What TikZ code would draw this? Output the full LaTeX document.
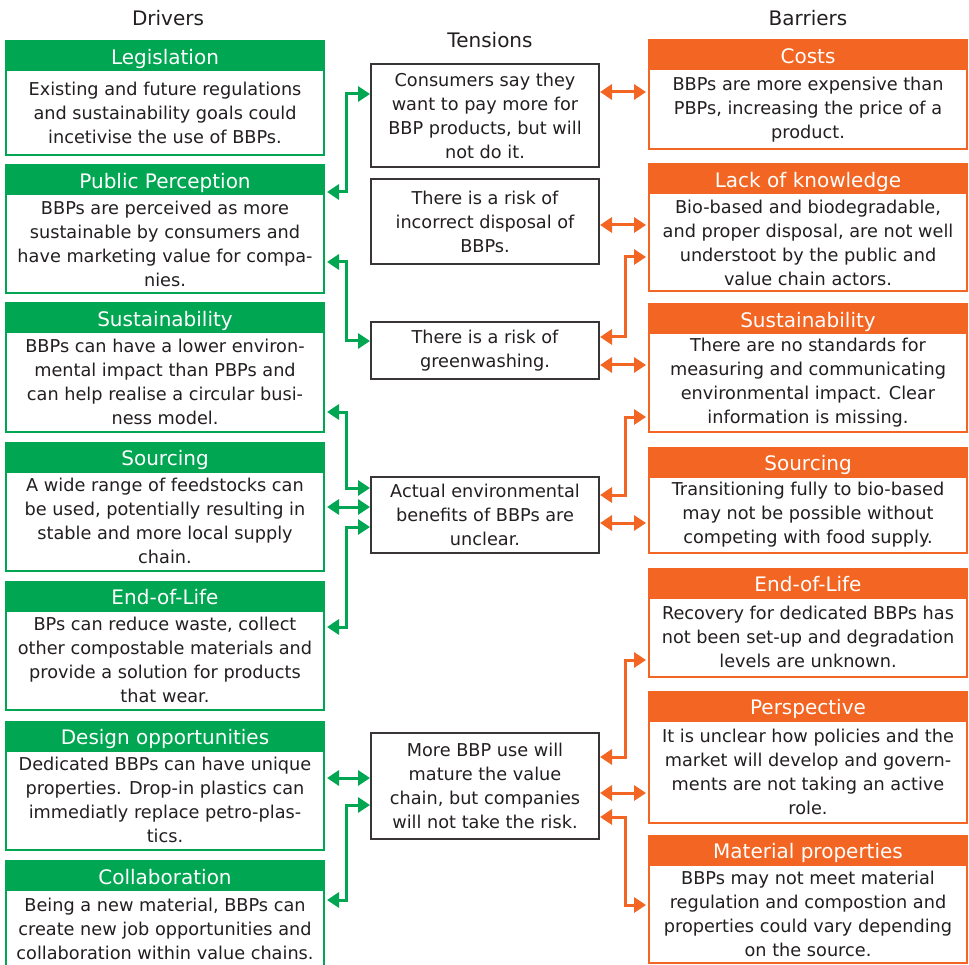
\documentclass[tikz,border=0pt]{standalone}
\usepackage{fontspec}
\setmainfont{DejaVu Sans}
\usetikzlibrary{arrows.meta,positioning}
\definecolor{dgreen}{HTML}{00A651}
\definecolor{dorange}{HTML}{F26522}
\definecolor{dtext}{HTML}{231F20}

\begin{document}
\begin{tikzpicture}[x=1pt, y=-1pt,
    body/.style={draw, line width=2pt, fill=white, align=center, inner sep=0pt, outer ysep=0pt, outer xsep=3pt, minimum width=318pt, text=dtext, font=\fontsize{17.7}{24}\selectfont},
    drv/.style={body, draw=dgreen},
    bar/.style={body, draw=dorange},
    head/.style={line width=2pt, inner sep=0pt, outer sep=0pt, minimum width=318pt, minimum height=29pt, text height=19pt, text depth=2pt, text=white, font=\fontsize{20}{24}\selectfont},
    drvhead/.style={head, draw=dgreen, fill=dgreen},
    barhead/.style={head, draw=dorange, fill=dorange},
    tensbox/.style={draw=dtext!90, line width=2pt, align=center, inner sep=0pt, outer xsep=1pt, outer ysep=0pt, minimum width=228pt, text=dtext, font=\fontsize{17.7}{24}\selectfont},
    title/.style={text=dtext, font=\fontsize{20}{24}\selectfont},
    garrow/.style={{Triangle[length=12pt,width=15pt]}-{Triangle[length=12pt,width=15pt]}, line width=3pt, draw=dgreen},
    oarrow/.style={garrow, draw=dorange}
  ]
    \useasboundingbox (0,0) rectangle (969,965);

    \node[title] (drivers) at (168,18) {Drivers};
    \node[title] (tensions) at (490,40) {Tensions};
    \node[title] (barriers) at (808,18) {Barriers};

    % drivers
    \node[drv, minimum height=85pt] (leg) at (165,113) {Existing and future regulations\\and sustainability goals could\\incetivise the use of BBPs.};
    \node[drvhead, above=0pt of leg] (legh) {Legislation};
    \node[drv, minimum height=99pt] (pp) at (165,244) {BBPs are perceived as more\\sustainable by consumers and\\have marketing value for compa-\\nies.};
    \node[drvhead, above=0pt of pp] (pph) {Public Perception};
    \node[drv, minimum height=99pt] (lsus) at (165,382) {BBPs can have a lower environ-\\mental impact than PBPs and\\can help realise a circular busi-\\ness model.};
    \node[drvhead, above=0pt of lsus] (lsush) {Sustainability};
    \node[drv, minimum height=99pt] (lsrc) at (165,521) {A wide range of feedstocks can\\be used, potentially resulting in\\stable and more local supply\\chain.};
    \node[drvhead, above=0pt of lsrc] (lsrch) {Sourcing};
    \node[drv, minimum height=99pt] (leol) at (165,660) {BPs can reduce waste, collect\\other compostable materials and\\provide a solution for products\\that wear.};
    \node[drvhead, above=0pt of leol] (leolh) {End-of-Life};
    \node[drv, minimum height=99pt] (des) at (165,800) {Dedicated BBPs can have unique\\properties. Drop-in plastics can\\immediatly replace petro-plas-\\tics.};
    \node[drvhead, above=0pt of des] (desh) {Design opportunities};
    \node[drv, minimum height=78pt] (col) at (165,929) {Being a new material, BBPs can\\create new job opportunities and\\collaboration within value chains.};
    \node[drvhead, above=0pt of col] (colh) {Collaboration};

    % tensions
    \node[tensbox, minimum height=103pt] (ten1) at (485,115.5) {Consumers say they\\want to pay more for\\BBP products, but will\\not do it.};
    \node[tensbox, minimum height=85pt] (ten2) at (485,221.5) {There is a risk of\\incorrect disposal of\\BBPs.};
    \node[tensbox, minimum height=57pt] (ten3) at (485,350.5) {There is a risk of\\greenwashing.};
    \node[tensbox, minimum height=76pt] (ten4) at (485,515) {Actual environmental\\benefits of BBPs are\\unclear.};
    \node[tensbox, minimum height=106pt] (ten5) at (485,786) {More BBP use will\\mature the value\\chain, but companies\\will not take the risk.};

    % barriers
    \node[bar, minimum height=80pt] (cost) at (808,109.5) {BBPs are more expensive than\\PBPs, increasing the price of a\\product.};
    \node[barhead, above=0pt of cost] (costh) {Costs};
    \node[bar, minimum height=98pt] (lok) at (808,242.5) {Bio-based and biodegradable,\\and proper disposal, are not well\\understoot by the public and\\value chain actors.};
    \node[barhead, above=0pt of lok] (lokh) {Lack of knowledge};
    \node[bar, minimum height=98pt] (rsus) at (808,382.5) {There are no standards for\\measuring and communicating\\environmental impact. Clear\\information is missing.};
    \node[barhead, above=0pt of rsus] (rsush) {Sustainability};
    \node[bar, minimum height=76pt] (rsrc) at (808,514.5) {Transitioning fully to bio-based\\may not be possible without\\competing with food supply.};
    \node[barhead, above=0pt of rsrc] (rsrch) {Sourcing};
    \node[bar, minimum height=79pt] (reol) at (808,637) {Recovery for dedicated BBPs has\\not been set-up and degradation\\levels are unknown.};
    \node[barhead, above=0pt of reol] (reolh) {End-of-Life};
    \node[bar, minimum height=102pt] (persp) at (808,771.5) {It is unclear how policies and the\\market will develop and govern-\\ments are not taking an active\\role.};
    \node[barhead, above=0pt of persp] (persph) {Perspective};
    \node[bar, minimum height=98pt] (mat) at (808,913.5) {BBPs may not meet material\\regulation and compostion and\\properties could vary depending\\on the source.};
    \node[barhead, above=0pt of mat] (math) {Material properties};

    % drivers <-> tensions
    \draw[garrow] ([yshift=21.5pt]ten1.west) -- ++(-24,0) |- ([yshift=52pt]pp.east);
    \draw[garrow] ([yshift=9.5pt]ten3.west) -- ++(-24,0) |- ([yshift=-18pt]pp.east);
    \draw[garrow] ([yshift=27pt]ten4.west) -- ++(-24,0) |- ([yshift=-30pt]lsus.east);
    \draw[garrow] ([yshift=8pt]ten4.west) -- ([yshift=14pt]lsrc.east);
    \draw[garrow] ([yshift=-12pt]ten4.west) -- ++(-24,0) |- ([yshift=33pt]leol.east);
    \draw[garrow] ([yshift=8pt]ten5.west) -- ([yshift=22pt]des.east);
    \draw[garrow] ([yshift=-19pt]ten5.west) -- ++(-24,0) |- ([yshift=29pt]col.east);

    % tensions <-> barriers
    \draw[oarrow] ([yshift=23.5pt]ten1.east) -- ([yshift=17.5pt]cost.west);
    \draw[oarrow] ([yshift=-3.5pt]ten2.east) -- ([yshift=17.5pt]lok.west);
    \draw[oarrow] ([yshift=13.5pt]ten3.east) -- ++(25,0) |- ([yshift=-14.5pt]lok.west);
    \draw[oarrow] ([yshift=-14.5pt]ten3.east) -- ([yshift=17.5pt]rsus.west);
    \draw[oarrow] ([yshift=20pt]ten4.east) -- ++(25,0) |- ([yshift=-34.5pt]rsus.west);
    \draw[oarrow] ([yshift=-8pt]ten4.east) -- ([yshift=-8.5pt]rsrc.west);
    \draw[oarrow] ([yshift=29pt]ten5.east) -- ++(25,0) |- ([yshift=-23pt]reol.west);
    \draw[oarrow] ([yshift=-7pt]ten5.east) -- ([yshift=-21.5pt]persp.west);
    \draw[oarrow] ([yshift=-31pt]ten5.east) -- ++(25,0) |- ([yshift=8.5pt]mat.west);
\end{tikzpicture}
\end{document}
